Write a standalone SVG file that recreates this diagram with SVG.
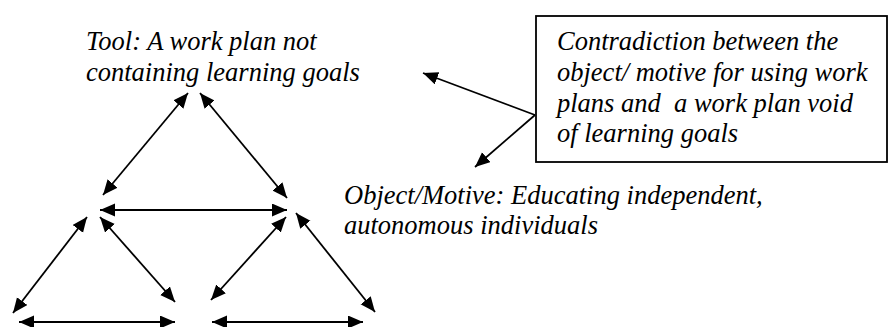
<svg xmlns="http://www.w3.org/2000/svg" width="889" height="327" viewBox="0 0 889 327">
<style>
.t text{font-family:"Liberation Serif","Times New Roman",serif;font-style:italic;font-size:26.5px;fill:#000;white-space:pre}
.c line{stroke:#000;stroke-width:1.8}
.d{marker-start:url(#ah);marker-end:url(#ah)}
.s{marker-end:url(#ah)}
</style>
<defs>
<marker id="ah" markerUnits="userSpaceOnUse" markerWidth="16" markerHeight="14" refX="15" refY="6.5" orient="auto-start-reverse" viewBox="0 0 16 14">
<path d="M0,0 L15,6.5 L0,13 z" fill="#000"/>
</marker>
</defs>
<rect width="889" height="327" fill="#fff"/>
<g id="tool" class="t">
<text x="86" y="50">Tool: A work plan not</text>
<text x="86" y="81">containing learning goals</text>
</g>
<g id="object" class="t">
<text x="344" y="204">Object/Motive: Educating independent,</text>
<text x="344" y="234">autonomous individuals</text>
</g>
<g id="contradiction" class="t">
<rect x="536" y="16" width="351" height="146" fill="#fff" stroke="#000" stroke-width="1.8"/>
<text x="557" y="50">Contradiction between the</text>
<text x="557" y="81">object/ motive for using work</text>
<text x="557" y="112" xml:space="preserve">plans and  a work plan void</text>
<text x="557" y="142">of learning goals</text>
</g>
<g id="connectors" class="c">
<line class="d" x1="188" y1="93" x2="103" y2="195"/>
<line class="d" x1="200" y1="93" x2="287" y2="198"/>
<line class="d" x1="100" y1="210" x2="287" y2="210"/>
<line class="d" x1="87" y1="217" x2="13" y2="313"/>
<line class="d" x1="100" y1="217" x2="175" y2="302"/>
<line class="d" x1="19" y1="322" x2="175" y2="322"/>
<line class="d" x1="286" y1="217" x2="211" y2="300"/>
<line class="d" x1="296" y1="213" x2="375" y2="312"/>
<line class="d" x1="212" y1="322" x2="363" y2="322"/>
<line class="s" x1="535" y1="115" x2="423" y2="73"/>
<line class="s" x1="535" y1="115" x2="475" y2="167"/>
</g>
</svg>
